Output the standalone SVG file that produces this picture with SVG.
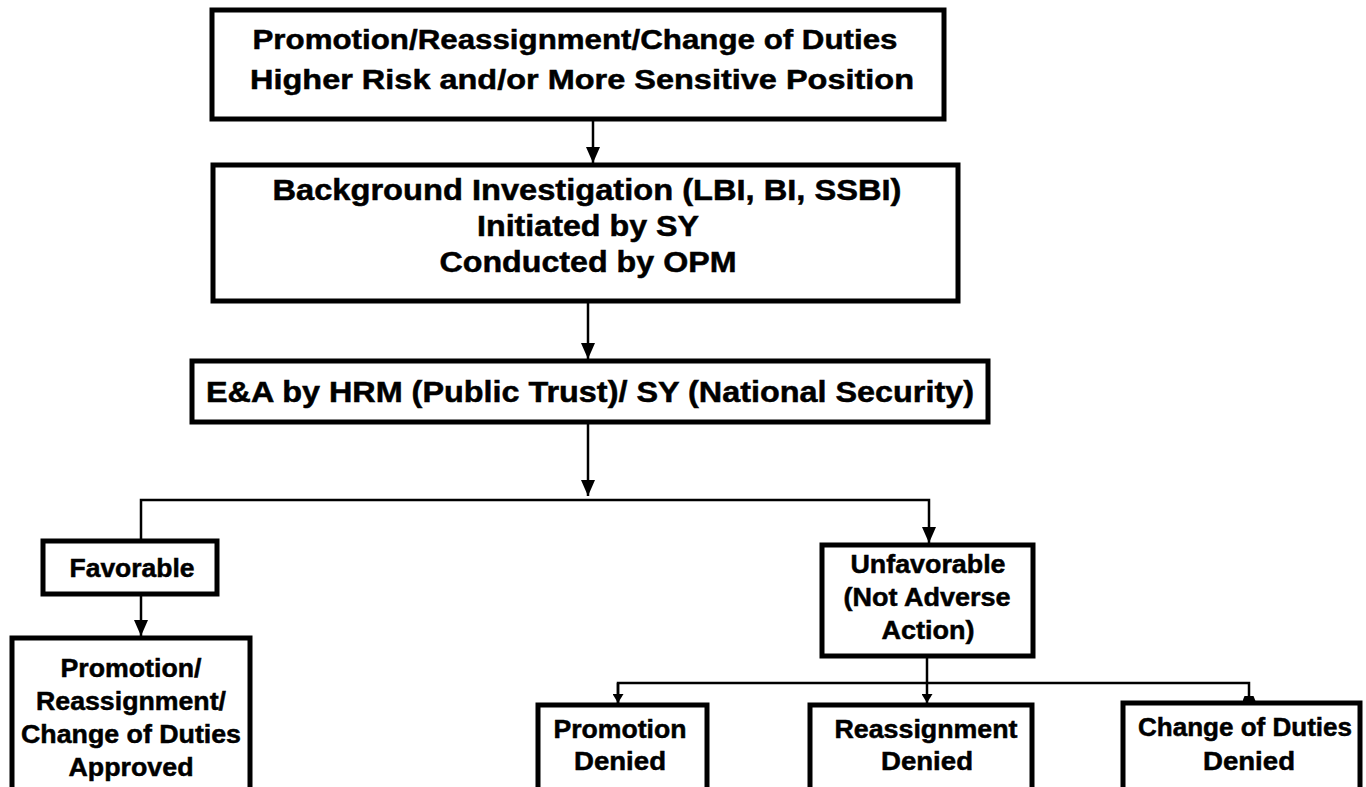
<svg xmlns="http://www.w3.org/2000/svg" width="1366" height="787" viewBox="0 0 1366 787">
  <style>
    .box { fill: #ffffff; stroke: #000000; stroke-width: 5; }
    .wire { fill: none; stroke: #000000; stroke-width: 2.5; }
    text { font-family: "Liberation Sans", Arial, Helvetica, sans-serif; font-weight: bold; fill: #000000; stroke: #000000; stroke-width: 0.5; text-anchor: middle; }
    .big { font-size: 28px; }
    .mid { font-size: 29px; }
    .small { font-size: 25px; }
  </style>
  <defs>
    <marker id="arrow" viewBox="0 0 16 14" refX="16" refY="7" markerWidth="16" markerHeight="14" markerUnits="userSpaceOnUse" orient="auto">
      <path d="M0,0 L16,7 L0,14 Z" fill="#000000"/>
    </marker>
    <marker id="tick" viewBox="0 0 9 11" refX="9" refY="5.5" markerWidth="9" markerHeight="11" markerUnits="userSpaceOnUse" orient="auto">
      <path d="M0,0 L9,5.5 L0,11 Z" fill="#000000"/>
    </marker>
    <marker id="flat" viewBox="0 0 5 13" refX="5" refY="6.5" markerWidth="5" markerHeight="13" markerUnits="userSpaceOnUse" orient="auto">
      <path d="M0,2 L5,0 L5,13 L0,11 Z" fill="#000000"/>
    </marker>
  </defs>
  <rect width="1366" height="787" fill="#ffffff"/>

  <!-- connectors -->
  <g id="connectors">
    <line class="wire" x1="593" y1="119" x2="593" y2="163" marker-end="url(#arrow)"/>
    <line class="wire" x1="588" y1="301" x2="588" y2="359" marker-end="url(#arrow)"/>
    <line class="wire" x1="588" y1="423" x2="588" y2="496" marker-end="url(#arrow)"/>
    <polyline class="wire" points="141,539 141,500 929,500 929,543" marker-end="url(#arrow)"/>
    <line class="wire" x1="141" y1="595" x2="141" y2="636" marker-end="url(#arrow)"/>
    <line class="wire" x1="927" y1="656" x2="927" y2="703" marker-end="url(#tick)"/>
    <polyline class="wire" points="618,703 618,683 1249,683 1249,701" marker-end="url(#flat)"/>
    <line class="wire" x1="618" y1="683" x2="618" y2="703" marker-end="url(#tick)"/>
  </g>

  <g id="node-request">
    <rect class="box" x="212" y="10" width="732" height="109"/>
    <text class="big" x="575" y="49" textLength="645" lengthAdjust="spacingAndGlyphs">Promotion/Reassignment/Change of Duties</text>
    <text class="big" x="582" y="89" textLength="664" lengthAdjust="spacingAndGlyphs">Higher Risk and/or More Sensitive Position</text>
  </g>

  <g id="node-investigation">
    <rect class="box" x="213" y="165" width="745" height="136"/>
    <text class="mid" x="587" y="200" textLength="629" lengthAdjust="spacingAndGlyphs">Background Investigation (LBI, BI, SSBI)</text>
    <text class="mid" x="588" y="236" textLength="222" lengthAdjust="spacingAndGlyphs">Initiated by SY</text>
    <text class="mid" x="588" y="272" textLength="297" lengthAdjust="spacingAndGlyphs">Conducted by OPM</text>
  </g>

  <g id="node-evaluation">
    <rect class="box" x="192" y="361" width="796" height="61"/>
    <text class="mid" x="590" y="402" textLength="768" lengthAdjust="spacingAndGlyphs">E&amp;A by HRM (Public Trust)/ SY (National Security)</text>
  </g>

  <g id="node-favorable">
    <rect class="box" x="43" y="541" width="174" height="53"/>
    <text class="small" x="132" y="577" textLength="125" lengthAdjust="spacingAndGlyphs">Favorable</text>
  </g>

  <g id="node-approved">
    <rect class="box" x="12" y="638" width="238" height="160"/>
    <text class="small" x="131" y="677" textLength="141" lengthAdjust="spacingAndGlyphs">Promotion/</text>
    <text class="small" x="131" y="710" textLength="190" lengthAdjust="spacingAndGlyphs">Reassignment/</text>
    <text class="small" x="131" y="743" textLength="220" lengthAdjust="spacingAndGlyphs">Change of Duties</text>
    <text class="small" x="131" y="776" textLength="125" lengthAdjust="spacingAndGlyphs">Approved</text>
  </g>

  <g id="node-unfavorable">
    <rect class="box" x="822" y="545" width="211" height="111"/>
    <text class="small" x="928" y="573" textLength="155" lengthAdjust="spacingAndGlyphs">Unfavorable</text>
    <text class="small" x="927" y="606" textLength="167" lengthAdjust="spacingAndGlyphs">(Not Adverse</text>
    <text class="small" x="928" y="639" textLength="93" lengthAdjust="spacingAndGlyphs">Action)</text>
  </g>

  <g id="node-promotion-denied">
    <rect class="box" x="538" y="705" width="169" height="96"/>
    <text class="small" x="620" y="738" textLength="133" lengthAdjust="spacingAndGlyphs">Promotion</text>
    <text class="small" x="620" y="770" textLength="92" lengthAdjust="spacingAndGlyphs">Denied</text>
  </g>

  <g id="node-reassignment-denied">
    <rect class="box" x="810" y="705" width="222" height="96"/>
    <text class="small" x="926" y="738" textLength="183" lengthAdjust="spacingAndGlyphs">Reassignment</text>
    <text class="small" x="927" y="770" textLength="92" lengthAdjust="spacingAndGlyphs">Denied</text>
  </g>

  <g id="node-duties-denied">
    <rect class="box" x="1123" y="703" width="237" height="98"/>
    <text class="small" x="1245" y="736" textLength="214" lengthAdjust="spacingAndGlyphs">Change of Duties</text>
    <text class="small" x="1249" y="770" textLength="92" lengthAdjust="spacingAndGlyphs">Denied</text>
  </g>
</svg>
